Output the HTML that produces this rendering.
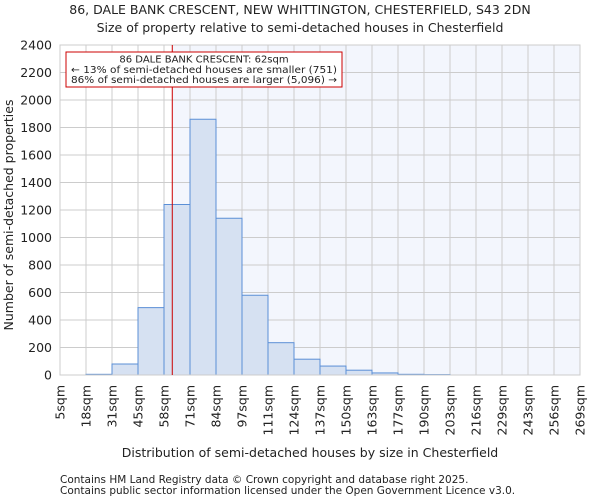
<!DOCTYPE html>
<html><head><meta charset="utf-8"><style>
body{margin:0;background:#fff;font-family:"DejaVu Sans","Liberation Sans",sans-serif;}
svg text{font-family:"DejaVu Sans","Liberation Sans",sans-serif;fill:#222;}
</style></head><body>
<svg id="chart" width="600" height="500" xmlns="http://www.w3.org/2000/svg">
<text x="300" y="14" text-anchor="middle" font-size="12.5">86, DALE BANK CRESCENT, NEW WHITTINGTON, CHESTERFIELD, S43 2DN</text>
<text x="300" y="32" text-anchor="middle" font-size="12.5">Size of property relative to semi-detached houses in Chesterfield</text>
<g id="plot"></g>
<text x="310" y="457" text-anchor="middle" font-size="12.5">Distribution of semi-detached houses by size in Chesterfield</text>
<text transform="translate(13,215) rotate(-90)" text-anchor="middle" font-size="12.5">Number of semi-detached properties</text>
<text x="60" y="483" font-size="10.5">Contains HM Land Registry data © Crown copyright and database right 2025.</text>
<text x="60" y="494" font-size="10.5">Contains public sector information licensed under the Open Government Licence v3.0.</text>
</svg>
<script>
const binLabels=["5sqm","18sqm","31sqm","45sqm","58sqm","71sqm","84sqm","97sqm","111sqm","124sqm","137sqm","150sqm","163sqm","177sqm","190sqm","203sqm","216sqm","229sqm","243sqm","256sqm","269sqm"];
const counts=[0,5,80,490,1240,1860,1140,580,235,115,65,35,15,5,3,0,0,0,0,0];
const yTicks=[0,200,400,600,800,1000,1200,1400,1600,1800,2000,2200,2400];
const propertySize=62;
const xMin=5,xMax=269;
const L=60,R=580,T=45,B=375;
const NS="http://www.w3.org/2000/svg";
const g=document.getElementById('plot');
function xs(v){return L+(v-xMin)/(xMax-xMin)*(R-L);}
function xi(i){return L+i*(R-L)/counts.length;}
function ys(v){return B-v/2400*(B-T);}
function mk(t,a){const e=document.createElementNS(NS,t);for(const k in a)e.setAttribute(k,a[k]);g.appendChild(e);return e;}
const bg=mk('rect',{x:L,y:T,width:R-L,height:B-T,fill:'#ffffff'});


const px=xs(propertySize);
const bg2=mk('rect',{x:px,y:T,width:R-px,height:B-T,fill:'#f3f6fd'});


yTicks.forEach(v=>{
 const l=mk('line',{x1:L,x2:R,y1:ys(v),y2:ys(v),stroke:'#cccccc','stroke-width':1});
 
 
 const t=mk('text',{x:L-8,y:ys(v)+4.5,'text-anchor':'end','font-size':12.5});
 t.textContent=v;
 
 
});
binLabels.forEach((s,i)=>{
 const x=xi(i);
 const l=mk('line',{x1:x,x2:x,y1:T,y2:B,stroke:'#cccccc','stroke-width':1});
 
 
 const t=mk('text',{transform:`translate(${x+4.5},${B+10}) rotate(-90)`,'text-anchor':'end','font-size':12.5});
 t.textContent=s;
 
 
});
counts.forEach((c,i)=>{
 if(c<=0)return;
 const r=mk('rect',{x:xi(i),y:ys(c),width:xi(i+1)-xi(i),height:B-ys(c),fill:'#d6e1f2',stroke:'#5b8fd6','stroke-width':1});
 
 
});
const ax=mk('rect',{x:L,y:T,width:R-L,height:B-T,fill:'none',stroke:'#cccccc'});


const ml=mk('line',{x1:px,x2:px,y1:T,y2:B,stroke:'#cc0000','stroke-width':1});


const box=mk('rect',{x:66,y:52,width:276,height:35,fill:'#fff',stroke:'#cc0000','stroke-width':1});


["86 DALE BANK CRESCENT: 62sqm","← 13% of semi-detached houses are smaller (751)","86% of semi-detached houses are larger (5,096) →"].forEach((s,i)=>{
 const t=mk('text',{x:204,y:62.5+i*10.3,'text-anchor':'middle','font-size':10,'textLength':i==0?'':'',});
 if(i>0){t.setAttribute('textLength','266');t.setAttribute('lengthAdjust','spacingAndGlyphs');}
 else t.removeAttribute('textLength');
 t.textContent=s;
 
 
});
</script>
</body></html>
